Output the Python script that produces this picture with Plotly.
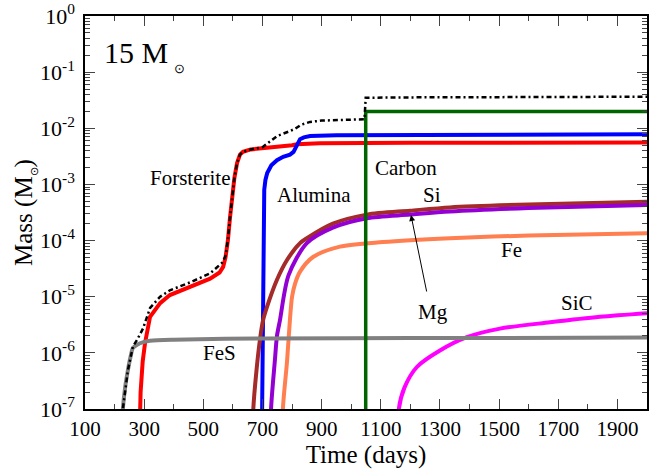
import plotly.graph_objects as go

# ---- data (days, solar masses) ----
forsterite_days = [282, 285, 288, 295, 303, 320, 354, 387, 455, 523, 555, 567, 575, 583, 590, 597, 605, 614, 624, 634, 660, 715, 770, 800, 817, 894, 1200, 2000]
forsterite_mass = [1e-8, 1e-7, 2e-7, 7e-7, 1.5e-6, 4.4e-6, 7.7e-6, 1.07e-5, 1.5e-5, 2.1e-5, 2.7e-5, 3.4e-5, 5e-5, 1e-4, 2.5e-4, 6e-4, 1.3e-3, 2.4e-3, 3.4e-3, 3.8e-3, 4.2e-3, 4.5e-3, 4.7e-3, 5.0e-3, 5.2e-3, 5.4e-3, 5.5e-3, 5.6e-3]

alumina_days = [697, 699, 701, 702.5, 703.5, 706, 710, 716, 730, 749, 770, 793, 805, 813, 820, 827, 840, 861, 950, 1200, 2000]
alumina_mass = [1e-8, 1e-7, 3e-6, 5e-5, 4e-4, 8e-4, 1.2e-3, 1.6e-3, 2.2e-3, 2.7e-3, 3.1e-3, 3.4e-3, 3.8e-3, 4.6e-3, 5.7e-3, 6.4e-3, 6.9e-3, 7.3e-3, 7.5e-3, 7.6e-3, 7.8e-3]

carbon_days = [1049, 1049, 2000]
carbon_mass = [1e-8, 2.0e-2, 2.0e-2]

si_days = [665, 669, 680, 692, 702, 715, 749, 783, 827, 850, 938, 1053, 1199, 1334, 1600, 2000]
si_mass = [1e-8, 1e-7, 5e-7, 1.8e-6, 3.8e-6, 6.5e-6, 2e-5, 4.5e-5, 9e-5, 1.1e-4, 2e-4, 2.9e-4, 3.4e-4, 3.9e-4, 4.4e-4, 4.9e-4]

mg_days = [727, 729, 742, 749, 759, 788, 850, 938, 1053, 1199, 1334, 1600, 2000]
mg_mass = [1e-8, 1e-7, 7.4e-7, 2.0e-6, 3.8e-6, 2.4e-5, 9e-5, 1.7e-4, 2.5e-4, 2.9e-4, 3.3e-4, 3.8e-4, 4.3e-4]

fe_days = [766, 769, 783, 793, 800, 810, 827, 871, 962, 1107, 1334, 1600, 2000]
fe_mass = [1e-8, 1e-7, 7e-7, 4e-6, 1.0e-5, 1.7e-5, 2.8e-5, 5.1e-5, 7.8e-5, 9.4e-5, 1.1e-4, 1.23e-4, 1.35e-4]

sic_days = [1158, 1161, 1180, 1222, 1300, 1391, 1503, 1672, 1841, 2000]
sic_mass = [1e-8, 1e-7, 2.4e-7, 5.6e-7, 1.1e-6, 1.9e-6, 2.7e-6, 3.5e-6, 4.4e-6, 5.1e-6]

fes_days = [222, 228, 236, 245, 254, 262, 276, 300, 320, 400, 700, 1200, 2000]
fes_mass = [1e-8, 1e-7, 2.5e-7, 4.9e-7, 8.5e-7, 1.22e-6, 1.4e-6, 1.57e-6, 1.65e-6, 1.72e-6, 1.8e-6, 1.83e-6, 1.87e-6]

total_days = [222, 228, 245, 262, 276, 296, 320, 354, 387, 455, 523, 563, 575, 583, 590, 597, 605, 614, 624, 634, 660, 700, 720, 750, 790, 810, 830, 861, 900, 1000, 1045, 1049, 1200, 2000]
total_mass = [1e-8, 1e-7, 4.9e-7, 1.3e-6, 1.7e-6, 2.7e-6, 6.3e-6, 1.0e-5, 1.3e-5, 1.8e-5, 2.6e-5, 4e-5, 5.3e-5, 1.02e-4, 2.5e-4, 6e-4, 1.3e-3, 2.4e-3, 3.4e-3, 3.8e-3, 4.2e-3, 4.6e-3, 5.5e-3, 7.3e-3, 8.8e-3, 9.8e-3, 1.15e-2, 1.3e-2, 1.37e-2, 1.43e-2, 1.45e-2, 3.5e-2, 3.55e-2, 3.65e-2]

x_ticks = [100, 300, 500, 700, 900, 1100, 1300, 1500, 1700, 1900]
y_ticks = [1e-7, 1e-6, 1e-5, 1e-4, 1e-3, 1e-2, 1e-1, 1e0]
y_ticktext = ["10<sup>-7</sup>", "10<sup>-6</sup>", "10<sup>-5</sup>", "10<sup>-4</sup>",
              "10<sup>-3</sup>", "10<sup>-2</sup>", "10<sup>-1</sup>", "10<sup>0</sup>"]

FONT = "Liberation Serif, Times New Roman, serif"

series = [
    (forsterite_days, forsterite_mass, "#ff0000", 4, "solid", "linear"),
    (alumina_days, alumina_mass, "#0000ff", 4, "solid", "linear"),
    (si_days, si_mass, "#a52a2a", 4, "solid", "spline"),
    (mg_days, mg_mass, "#9400d3", 4, "solid", "spline"),
    (fe_days, fe_mass, "#ff7f50", 4, "solid", "spline"),
    (sic_days, sic_mass, "#ff00ff", 4, "solid", "spline"),
    (fes_days, fes_mass, "#808080", 4, "solid", "spline"),
    (carbon_days, carbon_mass, "#006400", 3.5, "solid", "linear"),
    (total_days, total_mass, "#000000", 2.5, "2px,3px,5px,3px", "linear"),
]

fig = go.Figure()
for xs, ys, col, w, dash, shape in series:
    line = dict(color=col, width=w, dash=dash, shape=shape)
    if shape == "spline":
        line["smoothing"] = 0.8
    fig.add_trace(go.Scatter(x=xs, y=ys, mode="lines", line=line,
                             showlegend=False, hoverinfo="skip"))

minor_y = [k * 10 ** e for e in range(-7, 0) for k in range(2, 10)]

fig.update_layout(
    width=649, height=475,
    margin=dict(l=85, r=2, t=16, b=66),
    plot_bgcolor="white", paper_bgcolor="white",
    font=dict(family=FONT, size=21, color="black"),
    xaxis=dict(range=[100, 2000], tickvals=x_ticks, ticks="inside", ticklen=10,
               tickwidth=1, showline=True, linecolor="black", linewidth=1.5,
               mirror="ticks", showgrid=False, zeroline=False, automargin=False,
               ticklabeloverflow="allow",
               minor=dict(dtick=100, ticks="inside", ticklen=5, tickwidth=1, showgrid=False),
               title=dict(text="Time (days)", standoff=6),
               tickfont=dict(size=21)),
    yaxis=dict(type="log", range=[-7, 0], tickvals=y_ticks, ticktext=y_ticktext,
               ticks="inside", ticklen=10, tickwidth=1, showline=True,
               linecolor="black", linewidth=1.5, mirror="ticks", showgrid=False,
               zeroline=False, automargin=False, ticklabeloverflow="allow",
               ticklabelstandoff=4,
               minor=dict(tickvals=minor_y, ticks="inside", ticklen=5, tickwidth=1, showgrid=False),
               title=dict(text="Mass (M<sub><span style='font-size:11px'>⊙</span></sub>)", standoff=0),
               tickfont=dict(size=22)),
)

labels = [
    ("Forsterite", 455, -2.886),
    ("Alumina", 874, -3.19),
    ("Carbon", 1185, -2.71),
    ("Si", 1273, -3.19),
    ("Mg", 1276, -5.27),
    ("Fe", 1543, -4.17),
    ("SiC", 1763, -5.11),
    ("FeS", 556, -6.00),
]
for txt, xv, yv in labels:
    fig.add_annotation(text=txt, x=xv, y=yv, xref="x", yref="y", showarrow=False,
                       font=dict(family=FONT, size=21, color="black"))

# panel label
fig.add_annotation(text="15 M", x=0.030, y=0.908, xref="paper", yref="paper",
                   xanchor="left", yanchor="middle", showarrow=False,
                   font=dict(family=FONT, size=30, color="black"))
fig.add_annotation(text="⊙", x=0.169, y=0.866, xref="paper", yref="paper",
                   xanchor="center", yanchor="middle", showarrow=False,
                   font=dict(family=FONT, size=13, color="black"))

# arrow from Mg label to the Mg curve
fig.add_annotation(x=1202, y=-3.545, xref="x", yref="y", ax=16, ay=78,
                   text="", showarrow=True, arrowhead=2, arrowwidth=1,
                   arrowsize=1.2, arrowcolor="black")

# remove the default page margin so the figure fills the window exactly
fig.write_html("out.html", config={"displayModeBar": False},
               post_script="document.body.style.margin='0';document.body.style.overflow='hidden';")
